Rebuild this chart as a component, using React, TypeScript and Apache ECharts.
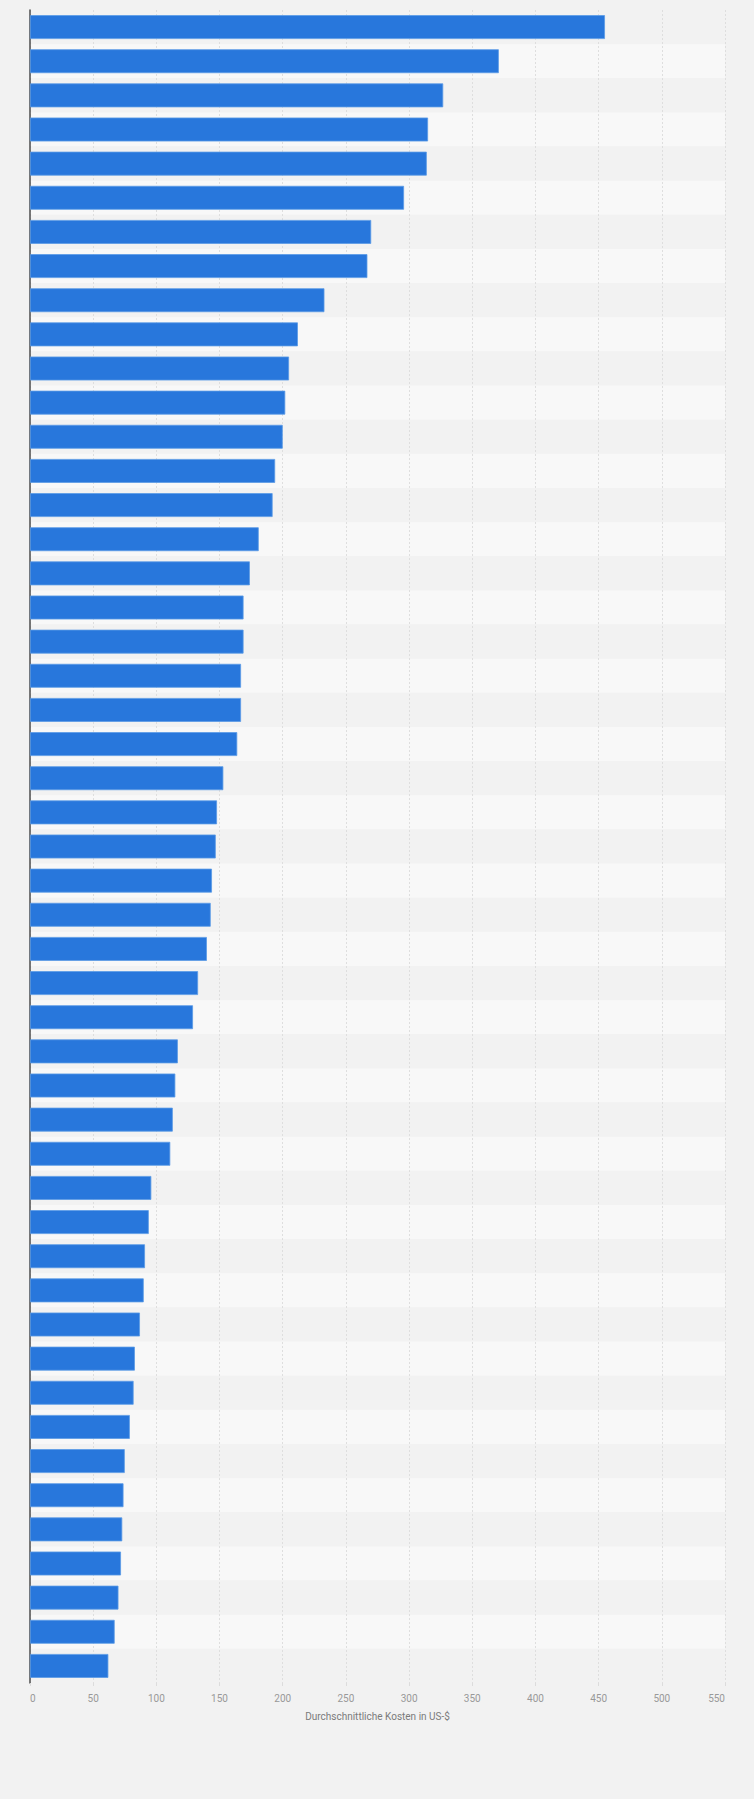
import React, { useEffect, useRef } from 'react';
import * as echarts from 'echarts';

// Ränge 1..49 (Kategorienamen sind in der Vorlage nicht beschriftet)
const categories = Array.from({ length: 49 }, (_, i) => `Rang ${i + 1}`);

const costs = [
  455, 371, 327, 315, 314, 296, 270, 267, 233, 212,
  205, 202, 200, 194, 192, 181, 174, 169, 169, 167,
  167, 164, 153, 148, 147, 144, 143, 140, 133, 129,
  117, 115, 113, 111, 96, 94, 91, 90, 87, 83,
  82, 79, 75, 74, 73, 72, 70, 67, 62,
];

const xTicks = { min: 0, max: 550, interval: 50 };
const axisTitle = 'Durchschnittliche Kosten in US-$';

const App = () => {
  const chartRef = useRef<HTMLDivElement>(null);

  useEffect(() => {
    document.body.style.margin = '0';
    document.body.style.background = '#f2f2f2';
    let chart: echarts.ECharts | null = null;
    if (chartRef.current) {
      chart = echarts.init(chartRef.current, null, { renderer: 'svg' });
      const option: echarts.EChartsOption = {
        animation: false,
        backgroundColor: 'transparent',
        textStyle: { fontFamily: 'Roboto, Arial, sans-serif' },
        grid: {
          left: 30,
          right: 29,
          top: 10,
          bottom: 116,
          containLabel: false,
        },
        xAxis: {
          type: 'value',
          min: xTicks.min,
          max: xTicks.max,
          interval: xTicks.interval,
          name: axisTitle,
          nameLocation: 'middle',
          nameGap: 28,
          nameTextStyle: { color: '#7a7a7a', fontSize: 10 },
          axisLine: { show: false },
          axisTick: {
            show: true,
            length: 3,
            lineStyle: { color: '#dcdcdc' },
          },
          axisLabel: {
            color: '#999999',
            fontSize: 10,
            margin: 10,
            alignMinLabel: 'left',
            alignMaxLabel: 'right',
          } as any,
          splitLine: {
            show: true,
            lineStyle: { color: '#dedede', type: [2, 2], width: 1 },
          },
        },
        yAxis: {
          type: 'category',
          data: categories,
          inverse: true,
          axisLine: { show: true, lineStyle: { color: '#4d4d4d', width: 1.5 } },
          axisTick: { show: false },
          axisLabel: { show: false },
          splitLine: { show: false },
          splitArea: {
            show: true,
            areaStyle: { color: ['#f2f2f2', '#f8f8f8'] },
          },
        },
        series: [
          {
            type: 'bar',
            data: costs,
            barCategoryGap: '30%',
            itemStyle: {
              color: '#2877dc',
              borderColor: '#5b9ae6',
              borderWidth: 0.8,
            },
          },
        ],
      };
      chart.setOption(option);
    }
    return () => {
      chart?.dispose();
    };
  }, []);

  return (
    <div style={{ width: 754, height: 1799, background: '#f2f2f2' }}>
      <div ref={chartRef} style={{ width: '754px', height: '1799px' }} />
    </div>
  );
};

export default App;
